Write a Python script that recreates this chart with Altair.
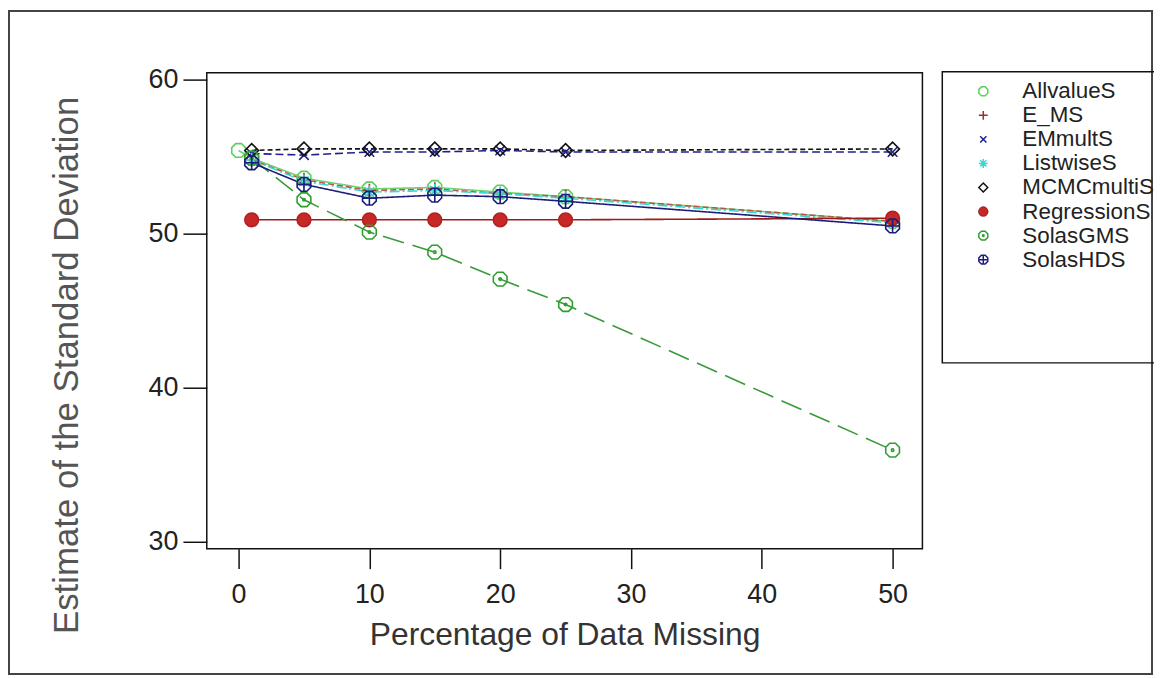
import altair as alt
import pandas as pd

# ---- data ----
x_pct = [0, 1, 5, 10, 15, 20, 25, 50]
series_names = ["AllvalueS", "E_MS", "EMmultS", "ListwiseS",
                "MCMCmultiS", "RegressionS", "SolasGMS", "SolasHDS"]
allvalue_s = [55.4, 54.9, 53.6, 52.9, 53.0, 52.7, 52.4, 50.8]
e_ms = [None, 54.8, 53.5, 52.8, 52.9, 52.6, 52.4, 50.8]
emmult_s = [None, 55.2, 55.1, 55.3, 55.3, 55.4, 55.3, 55.3]
listwise_s = [None, 54.8, 53.4, 52.7, 52.8, 52.6, 52.3, 50.7]
mcmcmulti_s = [None, 55.4, 55.5, 55.5, 55.5, 55.5, 55.4, 55.5]
regression_s = [None, 50.9, 50.9, 50.9, 50.9, 50.9, 50.9, 51.0]
solasgm_s = [None, 54.9, 52.2, 50.1, 48.8, 47.05, 45.4, 35.95]
solashd_s = [None, 54.6, 53.2, 52.3, 52.5, 52.4, 52.1, 50.5]

all_series = [allvalue_s, e_ms, emmult_s, listwise_s,
              mcmcmulti_s, regression_s, solasgm_s, solashd_s]

rows = []
for name, vals in zip(series_names, all_series):
    for xv, v in zip(x_pct, vals):
        if v is not None:
            rows.append({"pct": xv, "sd": v, "series": name})
df = pd.DataFrame(rows)

# ---- styles ----
stroke_colors = ["#5ccf5c", "#a52a2a", "#1f1f8f", "#3ad6d6",
                 "#111111", "#b32020", "#2e9e2e", "#1c1c7a"]
fill_colors = ["transparent", "transparent", "transparent", "transparent",
               "transparent", "#c62828", "transparent", "transparent"]
line_colors = ["#6fd36f", "#c0504d", "#1f1f8f", "#3ad6d6",
               "#111111", "#9b1c1c", "#3a9a3a", "#1c1c7a"]
dashes = [[1, 0], [6, 3], [8, 4], [10, 3, 2, 3],
          [5, 3], [1, 0], [22, 9], [1, 0]]

octagon = "M-0.42,-1L0.42,-1L1,-0.42L1,0.42L0.42,1L-0.42,1L-1,0.42L-1,-0.42Z"
shapes = [
    octagon,
    "M-1,0L1,0M0,-1L0,1",
    "M-0.7,-0.7L0.7,0.7M-0.7,0.7L0.7,-0.7",
    "M-1,0L1,0M0,-1L0,1M-0.7,-0.7L0.7,0.7M-0.7,0.7L0.7,-0.7",
    "diamond",
    "circle",
    octagon + "M-0.18,0A0.18,0.18 0 1,0 0.18,0A0.18,0.18 0 1,0 -0.18,0Z",
    octagon + "M-1,0L1,0M0,-1L0,1",
]

FONT = "Liberation Sans"
W, H = 720, 479

xscale = alt.Scale(domain=[-2.43, 52.28], nice=False, zero=False)
yscale = alt.Scale(domain=[29.55, 60.45], nice=False, zero=False)

xaxis = alt.Axis(values=[0, 10, 20, 30, 40, 50], title="Percentage of Data Missing",
                 domain=False, grid=False, tickSize=20, tickWidth=1.5, tickColor="#111",
                 labelFontSize=27, labelColor="#222", labelPadding=13, labelFont=FONT,
                 titleFontSize=32, titleColor="#333", titleFontWeight="normal",
                 titleFont=FONT, titleY=86, titleBaseline="middle")
yaxis = alt.Axis(values=[30, 40, 50, 60], title="Estimate of the Standard Deviation",
                 domain=False, grid=False, tickSize=24, tickWidth=1.5, tickColor="#111",
                 labelFontSize=27, labelColor="#222", labelPadding=5, labelFont=FONT,
                 titleFontSize=35, titleColor="#555", titleFontWeight="normal",
                 titleFont=FONT, titleAngle=-90, titleX=-141, titleY=294,
                 titleAlign="center", titleBaseline="middle")

base = alt.Chart(df)

# one line layer per series (constant style, no scale -> no extra legend)
line_layers = []
for name, col, dash in zip(series_names, line_colors, dashes):
    line_layers.append(
        base.transform_filter(alt.datum.series == name)
        .mark_line(strokeWidth=1.6, color=col, strokeDash=dash)
        .encode(x=alt.X("pct:Q", scale=xscale, axis=xaxis),
                y=alt.Y("sd:Q", scale=yscale, axis=yaxis))
    )

leg = alt.Legend(title=None, orient="none", legendX=770, legendY=7.5,
                 labelFontSize=22.5, labelFont=FONT, labelColor="#222",
                 labelOffset=28, rowPadding=1.2, symbolSize=80,
                 symbolStrokeWidth=1.5, padding=0)

points = base.mark_point(size=190, strokeWidth=1.6, filled=True, opacity=1).encode(
    x=alt.X("pct:Q", scale=xscale, axis=xaxis),
    y=alt.Y("sd:Q", scale=yscale, axis=yaxis),
    stroke=alt.Stroke("series:N", scale=alt.Scale(domain=series_names, range=stroke_colors),
                      legend=leg),
    fill=alt.Fill("series:N", scale=alt.Scale(domain=series_names, range=fill_colors),
                  legend=leg),
    shape=alt.Shape("series:N", scale=alt.Scale(domain=series_names, range=shapes),
                    legend=leg),
)

one = pd.DataFrame({"k": [0]})
legend_box = alt.Chart(one).mark_rect(fill="transparent", stroke="#111", strokeWidth=1.5).encode(
    x=alt.value(740), x2=alt.value(990), y=alt.value(-1), y2=alt.value(292))
outer_frame = alt.Chart(one).mark_rect(fill="transparent", stroke="#444", strokeWidth=2).encode(
    x=alt.value(-199), x2=alt.value(951), y=alt.value(-62), y2=alt.value(605))

chart = alt.layer(*line_layers, points, outer_frame, legend_box).properties(
    width=W, height=H,
    autosize=alt.AutoSizeParams(type="none"),
    padding={"left": 200, "top": 63, "right": 233, "bottom": 128},
).configure(
    font=FONT,
).configure_view(
    stroke="#111", strokeWidth=1.5,
)

chart.save("out.html", embed_options={"renderer": "svg", "actions": False})
